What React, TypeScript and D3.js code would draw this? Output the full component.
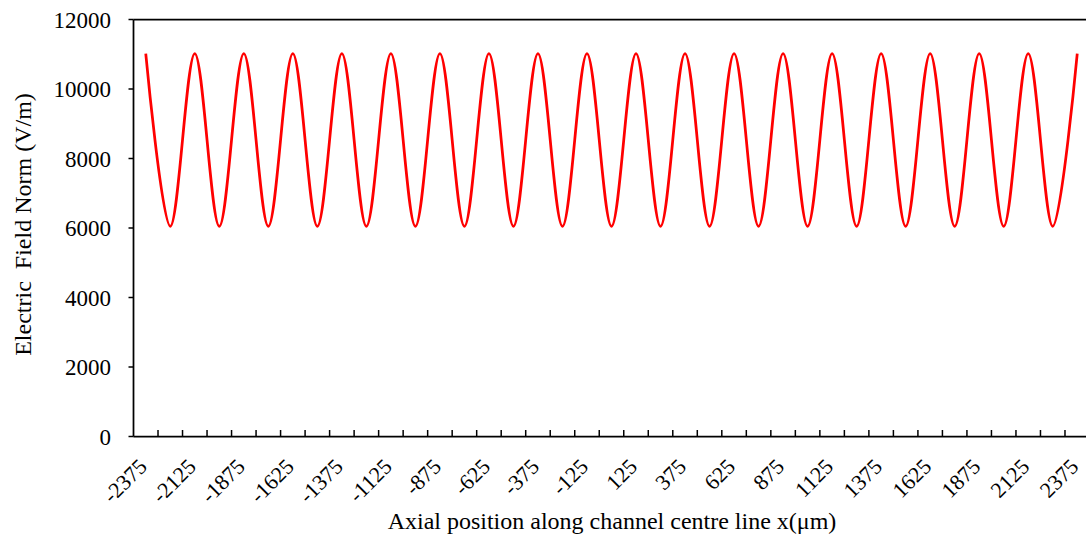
import React from "react";
import * as d3 from "d3";

// Axial sample positions along the channel centre line (µm)
const positions: number[] = [
  -2375, -2250, -2125, -2000, -1875, -1750, -1625, -1500, -1375, -1250,
  -1125, -1000, -875, -750, -625, -500, -375, -250, -125, 0,
  125, 250, 375, 500, 625, 750, 875, 1000, 1125, 1250,
  1375, 1500, 1625, 1750, 1875, 2000, 2125, 2250, 2375,
];

// Electric field norm at each position (V/m)
const fieldNorm: number[] = [
  11020, 6050, 11020, 6050, 11020, 6050, 11020, 6050, 11020, 6050,
  11020, 6050, 11020, 6050, 11020, 6050, 11020, 6050, 11020, 6050,
  11020, 6050, 11020, 6050, 11020, 6050, 11020, 6050, 11020, 6050,
  11020, 6050, 11020, 6050, 11020, 6050, 11020, 6050, 11020,
];

// Labelled positions on the horizontal axis
const xTickLabels: number[] = [
  -2375, -2125, -1875, -1625, -1375, -1125, -875, -625, -375, -125,
  125, 375, 625, 875, 1125, 1375, 1625, 1875, 2125, 2375,
];

// Vertical axis ticks
const yTicks: number[] = [0, 2000, 4000, 6000, 8000, 10000, 12000];

const W = 1086;
const H = 546;
const left = 133.5;
const right = 1089.5;
const top = 19.5;
const bottom = 436.5;
const serif = '"Liberation Serif"';

export default function App() {
  const step = positions[1] - positions[0];
  const x = d3
    .scaleLinear()
    .domain([positions[0] - step / 2, positions[positions.length - 1] + step / 2])
    .range([left, right]);
  const y = d3.scaleLinear().domain([0, 12000]).range([bottom, top]);

  const line = d3
    .line<number>()
    .x((_, i) => x(positions[i]))
    .y((d) => y(d))
    .curve(d3.curveCatmullRom.alpha(0));

  // tick marks sit between neighbouring categories
  const xTickMarks: number[] = positions.map((p) => p + step / 2);

  return (
    <svg
      width={W}
      height={H}
      style={{ position: "absolute", left: 0, top: 0, display: "block", background: "#fff" }}
    >
      <rect x={0} y={0} width={W} height={H} fill="#fff" />

      {/* frame */}
      <line x1={left} x2={right} y1={top} y2={top} stroke="#000" strokeWidth={1.75} />
      <line x1={left} x2={left} y1={top} y2={bottom} stroke="#000" strokeWidth={1.75} />
      <line x1={left} x2={right} y1={bottom} y2={bottom} stroke="#000" strokeWidth={1.75} />

      {/* y ticks */}
      {yTicks.map((t) => (
        <g key={`y${t}`}>
          <line x1={left - 5} x2={left} y1={y(t)} y2={y(t)} stroke="#000" strokeWidth={1.5} />
          <text x={111} y={y(t)} dy="0.35em" textAnchor="end" fontSize={23} fill="#000" style={{ fontFamily: serif }}>
            {t}
          </text>
        </g>
      ))}

      {/* x tick marks */}
      {xTickMarks.map((t) => (
        <line key={`xt${t}`} x1={x(t)} x2={x(t)} y1={bottom - 6.5} y2={bottom} stroke="#000" strokeWidth={1.5} />
      ))}

      {/* x tick labels */}
      {xTickLabels.map((t) => (
        <text
          key={`xl${t}`}
          transform={`translate(${x(t) + 2.5},${468}) rotate(-45)`}
          textAnchor="end"
          fontSize={22}
          fill="#000"
          style={{ fontFamily: serif }}
        >
          {t}
        </text>
      ))}

      {/* series */}
      <path d={line(fieldNorm) ?? ""} fill="none" stroke="#ff0000" strokeWidth={2.75} />

      {/* axis titles */}
      <text x={612} y={529} textAnchor="middle" fontSize={24} fill="#000" style={{ fontFamily: serif }}>
        Axial position along channel centre line x(μm)
      </text>
      <text
        transform={`translate(31,224.5) rotate(-90)`}
        textAnchor="middle"
        fontSize={24}
        fill="#000"
        style={{ fontFamily: serif, whiteSpace: "pre" }}
      >
        {"Electric  Field Norm (V/m)"}
      </text>
    </svg>
  );
}
